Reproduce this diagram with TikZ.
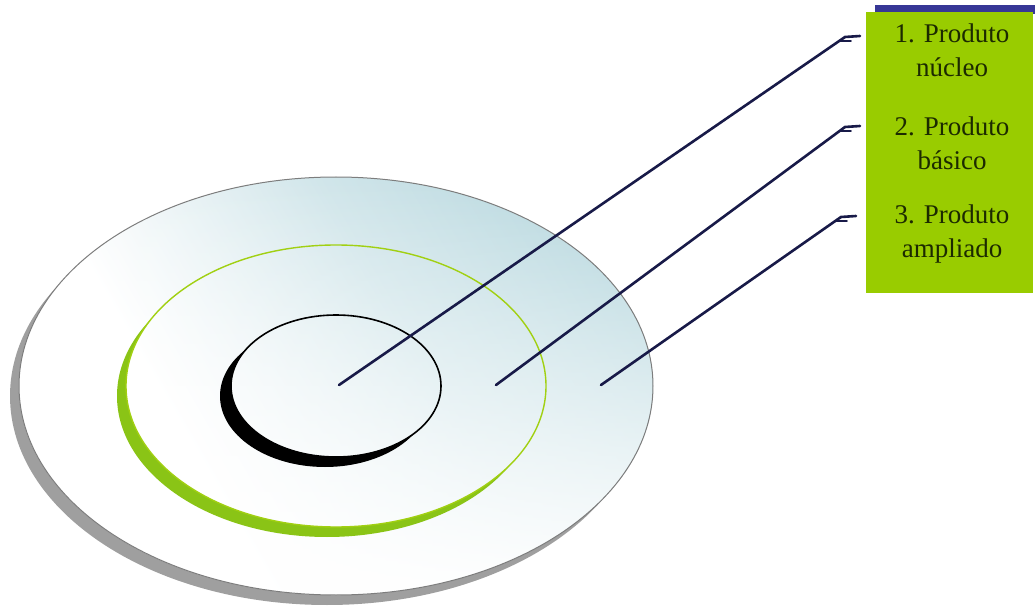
\documentclass[tikz,border=0pt]{standalone}
\usepackage{fontspec}
\setmainfont{Liberation Serif}
\usetikzlibrary{positioning,calc,fadings}
\definecolor{navy}{RGB}{24,26,72}
\definecolor{barBlue}{RGB}{55,55,150}
\definecolor{leaf}{RGB}{153,204,0}
\definecolor{ring}{RGB}{138,196,22}
\definecolor{ink}{RGB}{28,42,0}
\definecolor{paleTeal}{RGB}{184,216,223}
\definecolor{rim}{RGB}{125,125,125}
\pgfdeclareverticalshading{diskfade}{100bp}{color(0bp)=(white); color(36bp)=(white); color(58bp)=(paleTeal!65!white); color(76bp)=(paleTeal); color(100bp)=(paleTeal)}
\tikzfading[name=lowfade, top color=transparent!100, middle color=transparent!85, bottom color=transparent!0]
\tikzset{
  dart/.style={line width=1.3pt, draw=navy, line cap=round},
  lvl/.style={align=center, font=\fontsize{13.5}{17}\selectfont, text=ink},
  panel/.style={fill=leaf, draw=none}
}

\begin{document}
\begin{tikzpicture}[x=0.5pt, y=-0.5pt]
  \useasboundingbox (0,0) rectangle (1035,610);
  \coordinate (ctr) at (336,386);
  % outer disk with its shadow
  \fill[gray!75] ($(ctr)+(-9,10)$) ellipse [x radius=317, y radius=209];
  \shade[shading=diskfade, shading angle=-60]
    (ctr) ellipse [x radius=317, y radius=209];
  \fill[white, path fading=lowfade] (ctr) ellipse [x radius=317, y radius=209];
  \draw[rim, line width=.5pt] (ctr) ellipse [x radius=317, y radius=209];
  % green ring
  \begin{scope}[even odd rule]
    \clip (0,0) rectangle (1035,610) (ctr) ellipse [x radius=210, y radius=141];
    \fill[ring] ($(ctr)+(-9,10)$) ellipse [x radius=210, y radius=141];
  \end{scope}
  \draw[ring!80!yellow, line width=.7pt] (ctr) ellipse [x radius=210, y radius=141];
  % black core
  \begin{scope}[even odd rule]
    \clip (0,0) rectangle (1035,610) (ctr) ellipse [x radius=105, y radius=71];
    \fill[black] ($(ctr)+(-11,10)$) ellipse [x radius=105, y radius=71];
  \end{scope}
  \draw[black, line width=.8pt] (ctr) ellipse [x radius=105, y radius=71];
  % panel
  \fill[barBlue] (875,5) rectangle (1035,14);
  \fill[panel] (866,12) rectangle (1033,293);
  \node[lvl] (core) at (952,50) {1. Produto\\núcleo};
  \node[lvl] (basic) at (952,143) {2. Produto\\básico};
  \node[lvl] (augmented) at (952,234) {3. Produto\\ampliado};
  % pointers
  \coordinate (p1) at (339,385);
  \coordinate (p2) at (496,385);
  \coordinate (p3) at (601,385);
  \coordinate (q1) at (845,37);
  \coordinate (q2) at (845,127);
  \coordinate (q3) at (841,217);
  \foreach \p/\q in {p1/q1, p2/q2, p3/q3} {
    \draw[dart] (\p) -- (\q) -- ++(15,-1);
    \draw[dart, line width=.9pt] ($(\q)+(-5,4)$) -- ++(11,0);
  }
\end{tikzpicture}
\end{document}
